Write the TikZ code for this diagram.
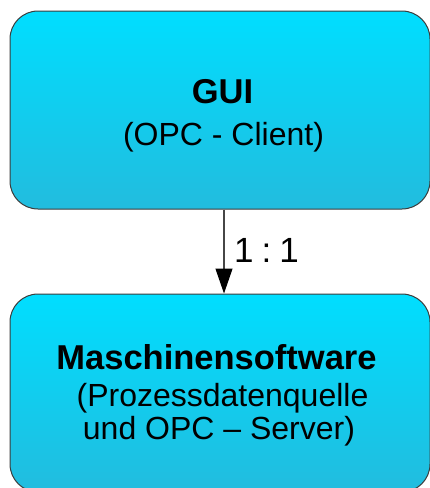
\documentclass[tikz,border=0pt]{standalone}
\usepackage{fontspec}
\setmainfont{Liberation Sans}
\usetikzlibrary{arrows.meta}

\definecolor{boxtop}{RGB}{0,222,255}
\definecolor{boxbottom}{RGB}{34,188,222}
\definecolor{boxline}{RGB}{60,60,60}
\definecolor{linkline}{RGB}{70,70,70}

\tikzset{
  unit/.style={
    rectangle, rounded corners=28pt,
    minimum width=420pt, minimum height=198pt,
    top color=boxtop, bottom color=boxbottom,
    draw=boxline, line width=1pt, inner sep=0pt
  },
  title/.style={font=\fontsize{34.5}{36}\selectfont\bfseries, anchor=base, inner sep=0pt},
  sub/.style={font=\fontsize{32}{34}\selectfont, anchor=base, inner sep=0pt},
  link/.style={draw=linkline, line width=1.2pt,
    -{Triangle[length=25pt,width=17pt,color=black]}},
  linklabel/.style={font=\fontsize{35}{36}\selectfont, anchor=base west, inner sep=0pt}
}

\begin{document}
\begin{tikzpicture}[x=1pt,y=-1pt]
  \useasboundingbox (0,0) rectangle (430,488);

  % client side
  \node[unit] (gui) at (220,110) {};
  \node[title] (gui-title) at (222.5,103) {GUI};
  \node[sub]   (gui-sub)   at (223.5,145) {(OPC - Client)};

  % machine side
  \node[unit] (machine) at (220,393) {};
  \node[title] (machine-title) at (216.5,369) {Maschinensoftware};
  \node[sub]   (machine-sub1)  at (222.5,406) {(Prozessdatenquelle};
  \node[sub]   (machine-sub2)  at (219,439)   {und OPC -- Server)};

  % one-to-one link
  \draw[link] ([xshift=4pt]gui.south) -- ([xshift=4pt]machine.north);
  \node[linklabel] (ratio) at (234,262) {1\hspace{8pt}:\hspace{8pt}1};
\end{tikzpicture}
\end{document}
